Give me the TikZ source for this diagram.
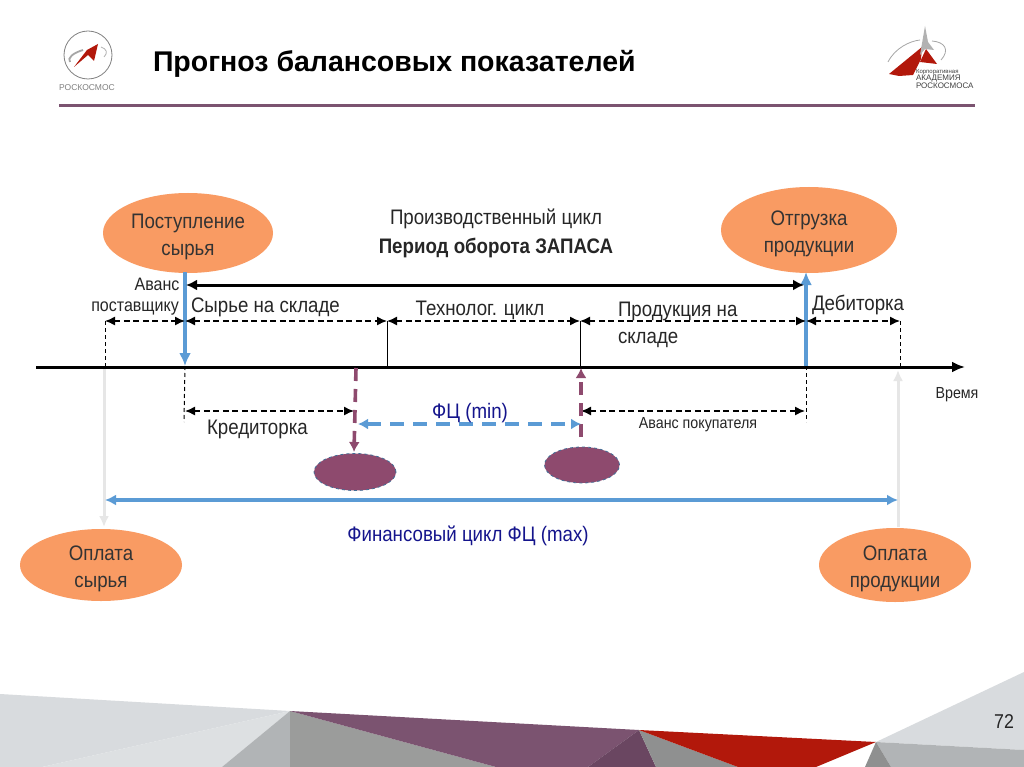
\documentclass[tikz,border=0pt]{standalone}
\usepackage{fontspec}
\setmainfont{Liberation Sans}
\newfontfamily\narrowf[FakeStretch=0.89]{Liberation Sans}
\usetikzlibrary{arrows.meta,shapes.geometric}
\newcommand{\lowerln}{\rule{0pt}{23pt}}
\definecolor{orangeb}{HTML}{F99B63}
\definecolor{plum}{HTML}{8E4A6E}
\definecolor{blueb}{HTML}{5B9BD5}
\definecolor{navyt}{HTML}{14148C}
\definecolor{headl}{HTML}{7B5370}
\definecolor{lgray}{HTML}{E6E6E6}
\definecolor{fa}{HTML}{D8DBDE}
\definecolor{fb}{HTML}{DDE0E2}
\definecolor{fc}{HTML}{B1B4B6}
\definecolor{fd}{HTML}{9B9C9B}
\definecolor{fe}{HTML}{6A4661}
\definecolor{ff}{HTML}{8F9090}
\definecolor{fr}{HTML}{B2180B}
\tikzset{
 x=1pt,y=-1pt,
 every node/.style={inner sep=0pt,outer sep=0pt,align=center},
 lab/.style={font=\narrowf\fontsize{21}{27}\selectfont,text=black!85},
 small/.style={font=\narrowf\fontsize{16}{20}\selectfont,text=black!85},
 bub/.style={ellipse,fill=orangeb,inner ysep=-4pt,minimum width=#1,font=\narrowf\fontsize{21}{27}\selectfont,text=black!80},
 pl/.style={ellipse,fill=plum,draw=blueb!70!black,dashed,line width=.8pt},
 dbl/.style={line width=1.4pt,dash pattern=on 6pt off 3.5pt,{Latex[length=10pt,width=9pt]}-{Latex[length=10pt,width=9pt]}},
 thind/.style={line width=1pt,dash pattern=on 4pt off 3pt},
 thickb/.style={line width=3.4pt,blueb,-{Latex[length=13pt,width=12pt]}},
 plumd/.style={line width=3.6pt,plum,dash pattern=on 13pt off 8pt,-{Latex[length=10pt,width=11pt]}},
 grayar/.style={line width=3pt,lgray,-{Latex[length=11pt,width=10pt]}}
}
\begin{document}
\begin{tikzpicture}
\useasboundingbox (0,0) rectangle (1024,767);
\fill[white] (0,0) rectangle (1024,767);
% footer
\fill[fa] (0,694) -- (290,711) -- (42,767) -- (0,767) -- cycle;
\fill[fb] (290,711) -- (222,767) -- (42,767) -- cycle;
\fill[fc] (290,711) -- (290,767) -- (222,767) -- cycle;
\fill[fd] (290,711) -- (496,767) -- (290,767) -- cycle;
\fill[headl] (290,711) -- (639,730) -- (588,767) -- (496,767) -- cycle;
\fill[fe] (639,730) -- (656,767) -- (588,767) -- cycle;
\fill[ff] (639,730) -- (738,767) -- (656,767) -- cycle;
\fill[fr] (639,730) -- (876,742) -- (816,767) -- (738,767) -- cycle;
\fill[fa] (876,742) -- (1024,672) -- (1024,750) -- cycle;
\fill[fc] (876,742) -- (1024,750) -- (1024,767) -- (891,767) -- cycle;
\fill[ff] (876,742) -- (891,767) -- (865,767) -- cycle;
\node[font=\narrowf\fontsize{20}{22}\selectfont,text=black!85] (pg) at (1004,722) {72};
% header
\node[font=\bfseries\fontsize{28.5}{32}\selectfont,text=black,anchor=west] (title) at (153,64) {Прогноз балансовых показателей};
\coordinate (hl) at (59,106); \coordinate (hr) at (975,106);
\draw[headl,line width=3pt] (hl) -- (hr);
% logo left
\draw[gray,line width=.8pt] (88,55) circle (24);
\draw[gray!70,line width=1.8pt] (83,50) .. controls (73,53) and (67,58) .. (70,62);
\fill[fr] (98,44) -- (94,61) -- (88,55) -- (74,67) -- (87,50) -- cycle;
\draw[gray!60,line width=.8pt] (101,47) .. controls (107,49) and (108,53) .. (104,57);
\node[font=\fontsize{8.5}{9}\selectfont,text=gray] (ros) at (87,88) {РОСКОСМОС};
% logo right
\fill[fr] (889,74) -- (922,47) -- (921,59) -- (913,75) -- (899,76) -- cycle;
\fill[fr] (926,49) -- (937,64) -- (920,62) -- cycle;
\fill[gray!60] (925,26) -- (928,42) -- (934,50) -- (925,49) -- (920,55) -- cycle;
\draw[gray!70,line width=.8pt] (888,62) .. controls (895,48) and (910,41) .. (920,40);
\draw[gray!70,line width=.8pt] (932,41) .. controls (945,42) and (950,50) .. (941,60);
\node[font=\fontsize{6}{8}\selectfont,text=gray!50!black,anchor=north west,align=left] (acad) at (916,69) {Корпоративная\\[-.5pt]\fontsize{8}{8}\selectfont АКАДЕМИЯ\\[-.5pt]\fontsize{8}{8}\selectfont РОСКОСМОСА};
% bubbles
\node[bub=170pt,minimum height=80pt] (post) at (188,233) {\lowerln Поступление\\сырья};
\node[bub=176pt,minimum height=86pt] (otgr) at (809,230) {\lowerln Отгрузка\\продукции};
\node[bub=162pt,minimum height=72pt] (opls) at (101,565) {\lowerln Оплата\\сырья};
\node[bub=152pt,minimum height=74pt] (oplp) at (895,565) {\lowerln Оплата\\продукции};
\node[pl,minimum width=82pt,minimum height=37pt] (e1) at (355,472) {};
\node[pl,minimum width=75pt,minimum height=36pt] (e2) at (582,465) {};
% coordinates
\coordinate (axL) at (36,367); \coordinate (axR) at (965,367);
\coordinate (a105) at (105,367); \coordinate (a184) at (185,366); \coordinate (a387) at (387,367);
\coordinate (a580) at (580,367); \coordinate (a806) at (806,366); \coordinate (a900) at (900,366);
\coordinate (t105) at (105,321); \coordinate (t185) at (185,321); \coordinate (t387) at (387,321);
\coordinate (t580) at (580,321); \coordinate (t806) at (806,321); \coordinate (t900) at (900,321);
\coordinate (k185) at (185,411); \coordinate (k353) at (354,411); \coordinate (k580) at (581,411); \coordinate (k805) at (805,411);
\coordinate (b184) at (184,422); \coordinate (b806) at (806,422);
\coordinate (gt1) at (104,369); \coordinate (gb1) at (104,527);
\coordinate (gt2) at (898,370); \coordinate (gb2) at (898,527);
\coordinate (bt1) at (185,272); \coordinate (bt2) at (806,272);
\coordinate (pa1) at (356,368); \coordinate (pa2) at (354,452);
\coordinate (pb1) at (581,437); \coordinate (pb2) at (581,368);
% axis
\draw[line width=3pt,-{Latex[length=13pt,width=11pt]}] (axL) -- (axR);
% thin verticals
\draw[line width=1pt] (t387) -- (a387);
\draw[line width=1pt] (t580) -- (a580);
\draw[thind] (t105) -- (a105);
\draw[thind] (t900) -- (a900);
\draw[thind] (a184) -- (b184);
\draw[thind] (a806) -- (b806);
% gray arrows
\draw[grayar] (gt1) -- (gb1);
\draw[grayar] (gb2) -- (gt2);
% blue verticals
\draw[thickb] (bt1) -- (a184);
\draw[thickb] (a806) -- (bt2);
% period arrow
\coordinate (p1) at (186,285); \coordinate (p2) at (804,285);
\draw[line width=3pt,{Latex[length=11pt,width=11pt]}-{Latex[length=11pt,width=11pt]}] (p1) -- (p2);
% dashed span arrows
\draw[dbl] (t105) -- (t185);
\draw[dbl] (t185) -- (t387);
\draw[dbl] (t387) -- (t580);
\draw[dbl] (t580) -- (t806);
\draw[dbl] (t806) -- (t900);
\draw[dbl] (k185) -- (k353);
\draw[dbl] (k580) -- (k805);
% plum
\draw[plumd] (pa1) -- (pa2);
\draw[plumd] (pb1) -- (pb2);
% FC min
\coordinate (f1) at (358,424); \coordinate (f2) at (581,424);
\draw[line width=3.4pt,blueb,dash pattern=on 14pt off 9pt,{Latex[length=10pt,width=11pt]}-{Latex[length=10pt,width=11pt]}] (f1) -- (f2);
% FC max
\coordinate (m1) at (105,500); \coordinate (m2) at (898,500);
\draw[line width=3.2pt,blueb,{Latex[length=11pt,width=11pt]}-{Latex[length=11pt,width=11pt]}] (m1) -- (m2);
% labels
\node[lab] (l1) at (496,219) {Производственный цикл};
\node[lab,font=\bfseries\narrowf\fontsize{21}{25}\selectfont] (l2) at (496,248) {\bfseries Период оборота ЗАПАСА};
\node[small,font=\narrowf\fontsize{18}{20}\selectfont] (l3) at (157,284) {Аванс};
\node[small,font=\narrowf\fontsize{18}{20}\selectfont] (l4) at (135,309) {поставщику};
\node[lab,anchor=west] (l5) at (191,307) {Сырье на складе};
\node[lab] (l6) at (480,310) {Технолог. цикл};
\node[lab,anchor=west,align=left] (l7) at (618,325) {Продукция на\\складе};
\node[lab,anchor=west] (l8) at (812,305) {Дебиторка};
\node[lab,anchor=west] (l9) at (207,429) {Кредиторка};
\node[lab,text=navyt] (l10) at (470,413) {ФЦ (min)};
\node[small] (l11) at (698,425) {Аванс покупателя};
\node[small] (l12) at (957,395) {Время};
\node[lab,text=navyt] (l13) at (468,536) {Финансовый цикл ФЦ (max)};
\end{tikzpicture}
\end{document}
